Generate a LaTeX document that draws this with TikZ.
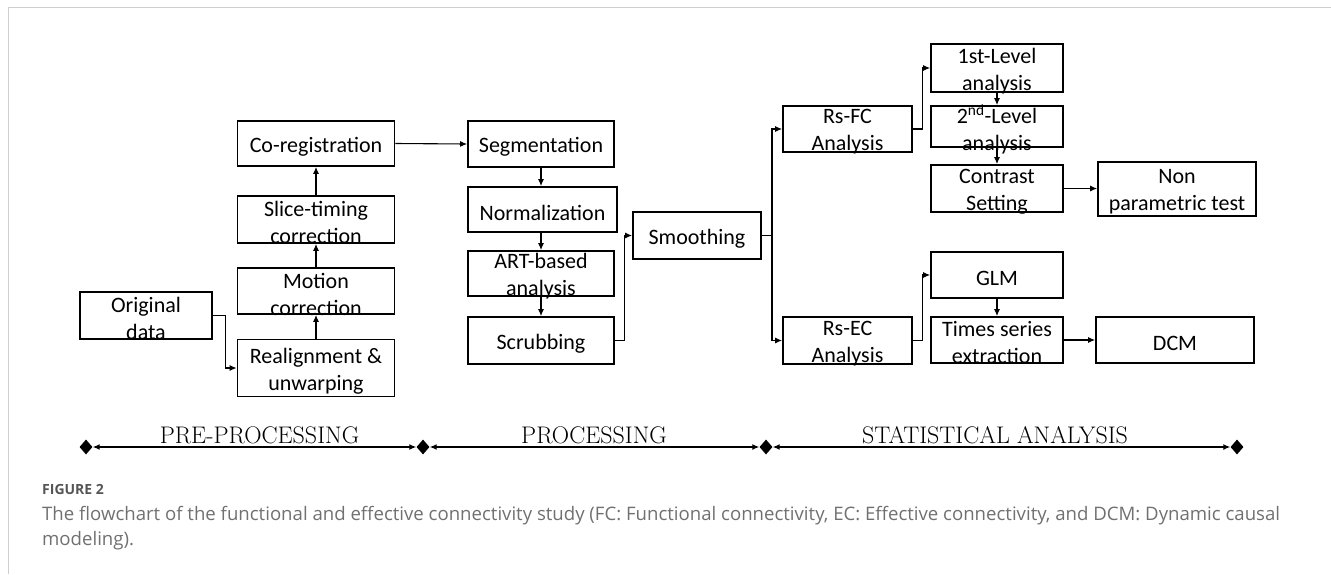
\documentclass[tikz,border=0pt]{standalone}
\usepackage{fontspec}
\usepackage{tikz}
\usetikzlibrary{arrows.meta,shapes.geometric}
\newfontfamily\caixafonte{Carlito}
\newfontfamily\legendafonte{Open Sans}
\definecolor{borda}{HTML}{CFCFCF}
\definecolor{legtexto}{HTML}{707070}
\definecolor{figtexto}{HTML}{555555}
\tikzset{
  caixa/.style={draw, line width=1.8pt, inner sep=0pt},
  caixatexto/.style={align=center, inner sep=0pt, yshift=-3pt, font=\caixafonte\fontsize{22}{27}\selectfont},
  flecha/.style={line width=1.1pt, -{Latex[length=7pt,width=6pt]}},
  liga/.style={line width=1.1pt},
  marco/.style={diamond, fill=black, inner sep=0pt, minimum width=13pt, minimum height=15pt},
  fase/.style={line width=1.3pt, {Latex[length=7pt,width=6pt]}-{Latex[length=7pt,width=6pt]}},
  fasetexto/.style={anchor=base, font=\fontsize{24}{28}\selectfont}
}
\newcommand{\caixa}[6]{%
  \node[caixa, minimum width=#4pt, minimum height=#5pt,
    label={[caixatexto]center:{#6}}] (#1) at (#2,#3) {};}

\begin{document}
\begin{tikzpicture}[x=1pt,y=-1pt]
  \useasboundingbox (0,0) rectangle (1331,574);
  \draw[borda, line width=1.5pt] (8.5,574) -- (8.5,7.5) -- (1331,7.5);
  % pre-processamento
  \caixa{orig}{146}{315.5}{132}{47}{Original\\data}
  \caixa{realign}{316}{368}{157}{57}{Realignment \&\\unwarping}
  \caixa{motion}{316}{291}{157}{46}{Motion\\correction}
  \caixa{slice}{316}{219.5}{157}{47}{Slice-timing\\correction}
  \caixa{coreg}{316}{143.5}{157}{45}{Co-registration}
  \draw[flecha] (orig.east) -- ++(13,0) |- (realign.west);
  \draw[flecha] (realign.north) -- (motion.south);
  \draw[flecha] (motion.north) -- (slice.south);
  \draw[flecha] (slice.north) -- (coreg.south);
  % processamento
  \caixa{seg}{541}{144}{146}{46}{Segmentation}
  \caixa{norm}{542.5}{209.5}{149}{45}{Normalization}
  \caixa{art}{541}{273.5}{146}{45}{ART-based\\analysis}
  \caixa{scrub}{541}{340.5}{146}{47}{Scrubbing}
  \caixa{smooth}{697}{235.5}{128}{47}{Smoothing}
  \draw[flecha] (coreg.east) -- (seg.west);
  \draw[flecha] (seg.south) -- (seg.south |- norm.north);
  \draw[flecha] (art.north |- norm.south) -- (art.north);
  \draw[flecha] (art.south) -- (scrub.north);
  \draw[flecha] (scrub.east) -- ++(10,0) |- (smooth.west);
  % analise estatistica
  \caixa{rsfc}{847.5}{129}{129}{46}{Rs-FC\\Analysis}
  \caixa{rsec}{847.5}{340.5}{129}{47}{Rs-EC\\Analysis}
  \caixa{first}{997}{68}{132}{48}{1st-Level\\analysis}
  \caixa{second}{997}{126.5}{132}{41}{2\textsuperscript{nd}-Level\\analysis}
  \caixa{contrast}{997}{188.5}{132}{47}{Contrast\\Setting}
  \caixa{nonpar}{1177}{189}{158}{54}{Non\\parametric test}
  \caixa{glm}{997}{275}{132}{46}{GLM}
  \caixa{times}{997}{340}{132}{46}{Times series\\extraction}
  \caixa{dcm}{1175}{340}{158}{46}{DCM}
  \coordinate (ramo) at (772,235.5);
  \draw[liga] (smooth.east) -- (ramo);
  \draw[flecha] (ramo) |- (rsfc.west);
  \draw[flecha] (ramo) |- (rsec.west);
  \draw[flecha] (rsfc.east) -- ++(10,0) |- (first.west);
  \draw[flecha] (first.south) -- (second.north);
  \draw[flecha] (second.south) -- (contrast.north);
  \draw[flecha] (contrast.east) -- (nonpar.west |- contrast.east);
  \draw[flecha] (rsec.east) -- ++(10,0) |- (glm.west);
  \draw[flecha] (glm.south) -- (times.north);
  \draw[flecha] (times.east) -- (dcm.west);
  % linha do tempo
  \node[marco] (m1) at (86,447) {};
  \node[marco] (m2) at (423,447) {};
  \node[marco] (m3) at (766,447) {};
  \node[marco] (m4) at (1237,447) {};
  \draw[fase] (m1) -- (m2);
  \draw[fase] (m2) -- (m3);
  \draw[fase] (m3) -- (m4);
  \node[fasetexto] (pre) at (259.5,443) {PRE-PROCESSING};
  \node[fasetexto] (proc) at (594,443) {PROCESSING};
  \node[fasetexto] (estat) at (995,443) {STATISTICAL ANALYSIS};
  % legenda
  \node[anchor=base west, inner sep=0pt, text=figtexto, font=\legendafonte\bfseries\fontsize{14}{16}\selectfont] (figura) at (42,494) {FIGURE 2};
  \node[anchor=base west, inner sep=0pt, text=legtexto, font=\legendafonte\fontsize{18.6}{25}\selectfont] (leg1) at (42,520)
    {The flowchart of the functional and effective connectivity study (FC: Functional connectivity, EC: Effective connectivity, and DCM: Dynamic causal};
  \node[anchor=base west, inner sep=0pt, text=legtexto, font=\legendafonte\fontsize{18.6}{25}\selectfont] (leg2) at (42,545) {modeling).};
\end{tikzpicture}
\end{document}
